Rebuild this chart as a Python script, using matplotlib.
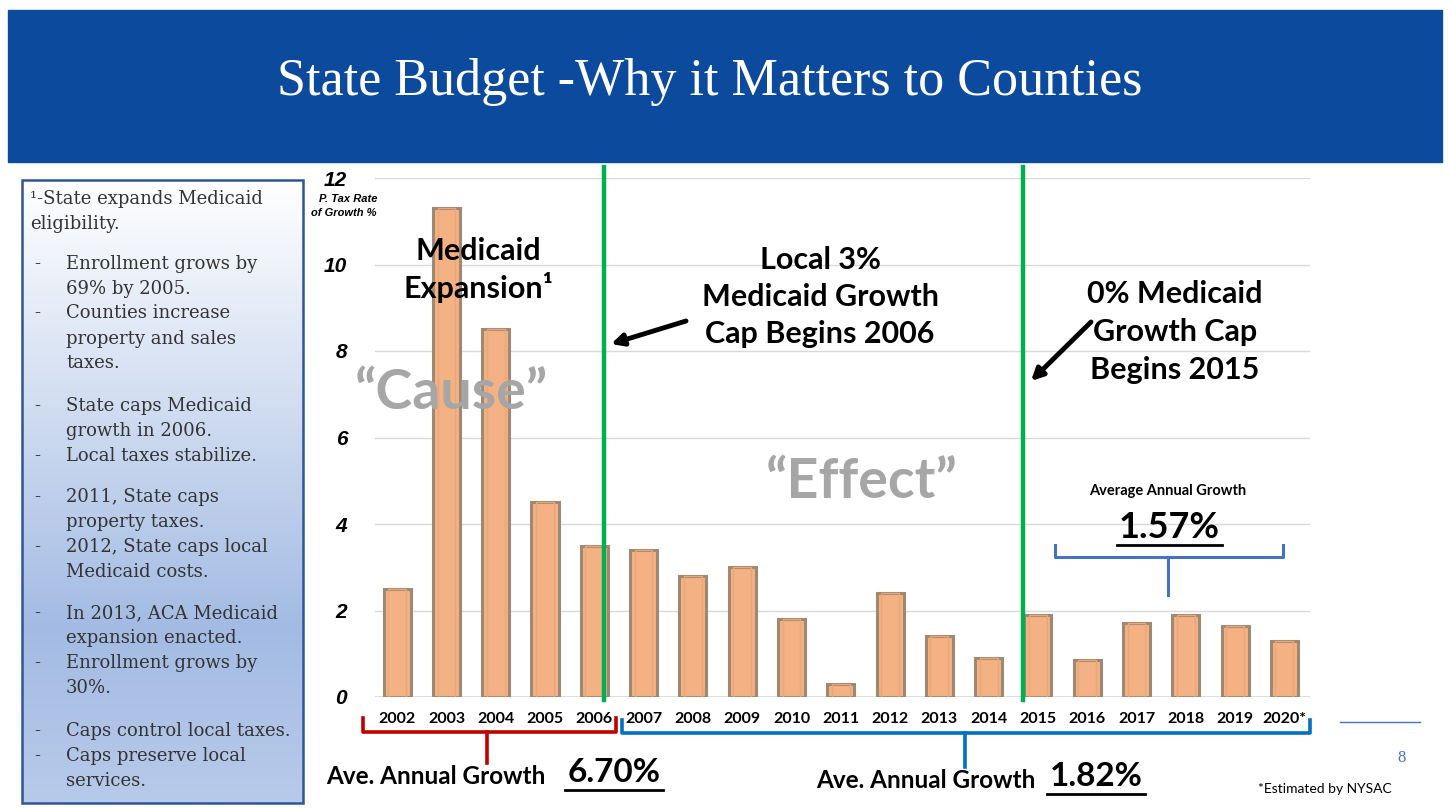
import numpy as np
import matplotlib.pyplot as plt
from matplotlib.colors import LinearSegmentedColormap
from matplotlib.patches import Rectangle

# data
years = ['2002', '2003', '2004', '2005', '2006', '2007', '2008', '2009', '2010', '2011',
         '2012', '2013', '2014', '2015', '2016', '2017', '2018', '2019', '2020*']
growth = [2.5, 11.3, 8.5, 4.5, 3.5, 3.4, 2.8, 3.0, 1.8, 0.3,
          2.4, 1.4, 0.9, 1.9, 0.85, 1.7, 1.9, 1.65, 1.3]
cap_starts = [4.2, 12.7]   # green divider lines (between bars)

box_lines = [
    ('', '\u00b9-State expands Medicaid', 199),
    ('', 'eligibility.', 224),
    ('-', 'Enrollment grows by', 264),
    ('', '69% by 2005.', 289),
    ('-', 'Counties increase', 313),
    ('', 'property and sales', 339),
    ('', 'taxes.', 363),
    ('-', 'State caps Medicaid', 406),
    ('', 'growth in 2006.', 431),
    ('-', 'Local taxes stabilize.', 456),
    ('-', '2011, State caps', 497),
    ('', 'property taxes.', 522),
    ('-', '2012, State caps local', 547),
    ('', 'Medicaid costs.', 572),
    ('-', 'In 2013, ACA Medicaid', 613),
    ('', 'expansion enacted.', 638),
    ('-', 'Enrollment grows by', 663),
    ('', '30%.', 688),
    ('-', 'Caps control local taxes.', 731),
    ('-', 'Caps preserve local', 756),
    ('', 'services.', 781),
]

W, H = 1448, 808
SANS = ['Lato', 'DejaVu Sans']

fig = plt.figure(figsize=(W / 100, H / 100), dpi=100)
fig.patch.set_facecolor('white')

# chart
ax = fig.add_axes([375 / W, 1 - 697 / H, (1310 - 375) / W, (697 - 178) / H])
x = np.arange(len(years))
ax.bar(x, growth, width=0.55, color='#F4B183', edgecolor='#9E8A72', linewidth=2.2, zorder=2)
ax.bar(x, growth, width=0.36, color='none', edgecolor='#E9A77A', linewidth=1, zorder=2)
for c in cap_starts:
    ax.plot([c, c], [-0.07, 12.25], color='#00B050', lw=3.2, clip_on=False, zorder=4)
ax.set_xlim(-0.45, 18.52)
ax.set_ylim(0, 12)
ax.set_yticks(range(0, 13, 2))
ax.set_yticklabels([str(v) for v in range(0, 13, 2)], fontfamily='Liberation Sans',
                   fontweight='bold', fontstyle='italic', fontsize=15)
ax.set_xticks(x)
ax.set_xticklabels(years, fontfamily=SANS, fontweight='bold', fontsize=11.5)
ax.tick_params(axis='y', length=0, pad=20)
ax.tick_params(axis='x', length=0, pad=11)
ax.grid(axis='y', color='#D9D9D9', lw=1, zorder=0)
for s in ax.spines.values():
    s.set_visible(False)
ax.axhline(0, color='#D9D9D9', lw=1.2, zorder=1)

# overlay in pixel coordinates
ov = fig.add_axes([0, 0, 1, 1], zorder=5)
ov.patch.set_alpha(0)
ov.axis('off')

ov.add_patch(Rectangle((8, 10), 1434, 152, color='#0B4A9C', zorder=0))
ov.text(710, 82, 'State Budget -Why it Matters to Counties', color='white',
        fontfamily='Liberation Serif', fontsize=37.5, ha='center', va='center')

# left text box with gradient
cmap = LinearSegmentedColormap.from_list('box', [(0, '#FFFFFF'), (0.72, '#A3BBE3'), (1, '#B8CAEA')])
grad = np.linspace(0, 1, 256).reshape(-1, 1)
ov.imshow(grad, extent=(22, 303, 803, 180), aspect='auto', cmap=cmap, origin='upper', zorder=1)
ov.add_patch(Rectangle((22, 180), 281, 623, fill=False, edgecolor='#2F5597', lw=1.8, zorder=2))
for dash, txt, yy in box_lines:
    xx = 30 if (dash == '' and yy < 230) else 66
    if dash:
        ov.text(34, yy, dash, fontfamily='DejaVu Serif', fontsize=13, color='#333333', va='center', zorder=3)
    ov.text(xx, yy, txt, fontfamily='DejaVu Serif', fontsize=13, color='#333333', va='center', zorder=3)

# y axis caption
ov.text(348, 199, 'P. Tax Rate', fontfamily='Liberation Sans', fontweight='bold', fontstyle='italic',
        fontsize=8, ha='center', va='center')
ov.text(344, 213, 'of Growth %', fontfamily='Liberation Sans', fontweight='bold', fontstyle='italic',
        fontsize=8, ha='center', va='center')

# annotations
bold = dict(fontfamily=SANS, fontweight='bold', ha='center', va='center')
ov.text(478, 270, 'Medicaid\nExpansion\u00b9', fontsize=22, linespacing=1.3, **bold)
ov.text(820, 297, 'Local 3%\nMedicaid Growth\nCap Begins 2006', fontsize=22, linespacing=1.4, **bold)
ov.text(1175, 332, '0% Medicaid\nGrowth Cap\nBegins 2015', fontsize=22, linespacing=1.45, **bold)
ov.text(452, 393, '\u201cCause\u201d', fontsize=40, color='#A6A6A6', **bold)
ov.text(862, 482, '\u201cEffect\u201d', fontsize=40, color='#A6A6A6', **bold)

ov.annotate('', xy=(611, 344), xytext=(686, 321),
            arrowprops=dict(arrowstyle='-|>,head_length=0.7,head_width=0.35', lw=3.5, color='black',
                            shrinkA=0, shrinkB=0))
ov.annotate('', xy=(1031, 381), xytext=(1091, 322),
            arrowprops=dict(arrowstyle='-|>,head_length=0.7,head_width=0.35', lw=3.5, color='black',
                            shrinkA=0, shrinkB=0))

# average growth since 2015
ov.text(1168, 491, 'Average Annual Growth', fontsize=10.5, **bold)
ov.text(1169, 527, '1.57%', fontsize=26, **bold)
ov.plot([1117, 1222], [545, 545], color='black', lw=2)
ov.plot([1055, 1055, 1283, 1283], [545, 557, 557, 545], color='#4472C4', lw=2.2, solid_joinstyle='round')
ov.plot([1168, 1168], [557, 595], color='#4472C4', lw=2.2)

# bottom brackets
ov.plot([363, 363, 616, 616], [718, 732, 732, 718], color='#C00000', lw=2.6, solid_joinstyle='round')
ov.plot([487, 487], [732, 763], color='#C00000', lw=2.6)
ov.plot([622, 622, 1310, 1310], [720, 733, 733, 720], color='#0070C0', lw=2.6, solid_joinstyle='round')
ov.plot([965, 965], [733, 767], color='#0070C0', lw=2.6)

ov.text(436, 777, 'Ave. Annual Growth', fontsize=17.5, **bold)
ov.text(614, 773, '6.70%', fontsize=24, **bold)
ov.plot([565, 663], [790, 790], color='black', lw=2)
ov.text(926, 780, 'Ave. Annual Growth', fontsize=17.5, **bold)
ov.text(1096, 777, '1.82%', fontsize=24, **bold)
ov.plot([1047, 1145], [794, 794], color='black', lw=2)

ov.text(1325, 789, '*Estimated by NYSAC', fontfamily=SANS, fontsize=10, ha='center', va='center')
ov.text(1402, 758, '8', fontfamily='Liberation Serif', fontsize=12, color='#4472C4', ha='center', va='center')
ov.plot([1340, 1420], [722, 722], color='#4472C4', lw=1)

ov.set_xlim(0, W)
ov.set_ylim(H, 0)

fig.savefig('out.png', dpi=100)
